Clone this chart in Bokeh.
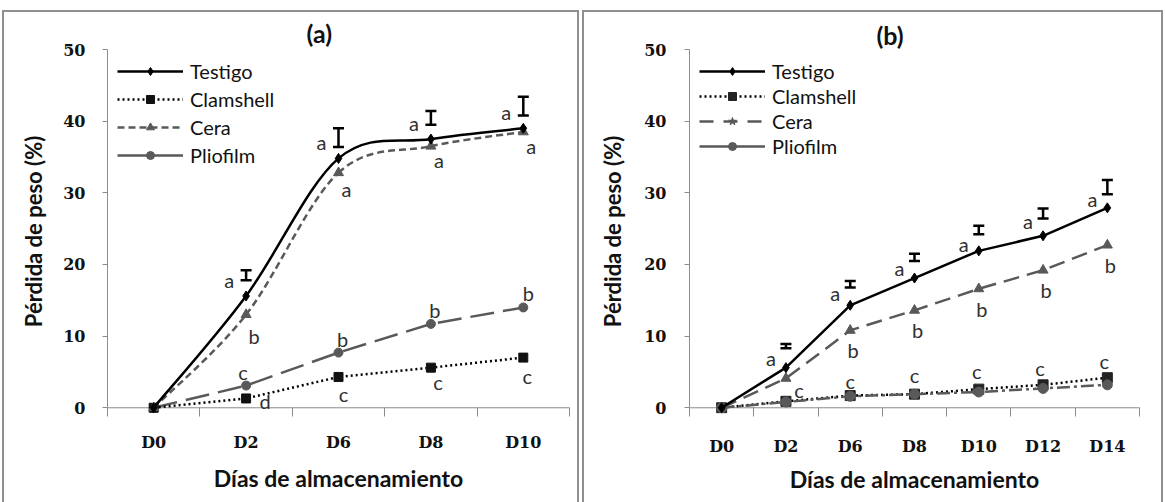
import math
from bokeh.plotting import figure
from bokeh.models import (Range1d, FixedTicker, ColumnDataSource, Whisker, TeeHead,
                          Legend, LegendItem, Title, Span)
from bokeh.layouts import row
from bokeh.embed import file_html
from bokeh.resources import INLINE
from bokeh.core.properties import value

# ---------------- data: panel (a) ----------------
days_a = ["D0", "D2", "D6", "D8", "D10"]
testigo_a = [0, 15.6, 34.8, 37.5, 39.0]
clamshell_a = [0, 1.3, 4.3, 5.6, 7.0]
cera_a = [0, 13.0, 32.8, 36.5, 38.5]
pliofilm_a = [0, 3.1, 7.7, 11.7, 14.0]
err_low_a = [17.8, 36.4, 39.5, 40.8]      # D2..D10
err_high_a = [19.2, 39.0, 41.4, 43.4]
letters_testigo_a = ["", "a", "a", "a", "a"]
letters_clamshell_a = ["", "d", "c", "c", "c"]
letters_cera_a = ["", "b", "a", "a", "a"]
letters_pliofilm_a = ["", "c", "b", "b", "b"]

# ---------------- data: panel (b) ----------------
days_b = ["D0", "D2", "D6", "D8", "D10", "D12", "D14"]
testigo_b = [0, 5.6, 14.3, 18.1, 21.9, 24.0, 27.9]
clamshell_b = [0, 0.9, 1.7, 1.9, 2.6, 3.2, 4.2]
cera_b = [0, 4.1, 10.8, 13.6, 16.6, 19.2, 22.7]
pliofilm_b = [0, 0.8, 1.6, 1.9, 2.2, 2.7, 3.2]
err_low_b = [8.3, 16.8, 20.5, 24.2, 26.4, 29.8]   # D2..D14
err_high_b = [8.9, 17.7, 21.5, 25.4, 27.8, 31.8]
letters_testigo_b = ["", "a", "a", "a", "a", "a", "a"]
letters_cera_b = ["", "", "b", "b", "b", "b", "b"]
letters_clamshell_b = ["", "c", "c", "c", "c", "c", "c"]
letters_pliofilm_b = ["", "", "", "", "", "", ""]

y_ticks = [0, 10, 20, 30, 40, 50]

AXIS_C = "#8c8c8c"
GRAY = "#595959"
BLACK = "#000000"
NAN = [float("nan")]
Y_START = -0.8


def smooth_source(xs, ys):
    d = dict(x0=[], y0=[], x1=[], y1=[], cx0=[], cy0=[], cx1=[], cy1=[])
    n = len(xs)
    for i in range(n - 1):
        a = i - 1 if i > 0 else i
        b = i + 2 if i + 2 < n else i + 1
        d["x0"].append(xs[i]); d["y0"].append(ys[i])
        d["x1"].append(xs[i + 1]); d["y1"].append(ys[i + 1])
        d["cx0"].append(xs[i] + (xs[i + 1] - xs[a]) / 6.0)
        d["cy0"].append(ys[i] + (ys[i + 1] - ys[a]) / 6.0)
        d["cx1"].append(xs[i + 1] - (xs[b] - xs[i]) / 6.0)
        d["cy1"].append(ys[i + 1] - (ys[b] - ys[i]) / 6.0)
    return ColumnDataSource(d)


def build(days, series, err_low, err_high, geo, title):
    n = len(days)
    xs = [2 * i + 1 for i in range(n)]
    p = figure(width=geo["w"], height=geo["h"], x_range=Range1d(0, 2 * n),
               y_range=Range1d(Y_START, 50), output_backend="svg",
               toolbar_location=None, min_border_left=geo["l"],
               min_border_right=geo["r"], min_border_top=geo["t"],
               min_border_bottom=geo["b"])
    p.margin = geo["margin"]
    p.border_fill_color = None
    p.background_fill_color = None
    p.outline_line_color = None
    p.xgrid.visible = False
    p.ygrid.visible = False
    p.styles = {"box-shadow": "inset 2px 2px 0 0 #8f8f8f, inset -2px 0 0 0 #8f8f8f"}

    p.title = Title(text=title, align="left", offset=geo["toff"], standoff=geo["tst"],
                    vertical_align="bottom", text_font="Lato",
                    text_font_style="bold", text_font_size="25px",
                    text_color="#111111")

    # zero line acting as the category axis line
    p.add_layout(Span(location=0, dimension="width", line_color=AXIS_C,
                      line_width=1, level="underlay"))

    # axes
    xa = p.xaxis[0]
    xa.ticker = FixedTicker(ticks=xs, minor_ticks=list(range(0, 2 * n + 1, 2)))
    xa.major_label_overrides = {x: d for x, d in zip(xs, days)}
    xa.major_tick_out = 0
    xa.major_tick_in = 0
    xa.minor_tick_in = geo["mti"]
    xa.minor_tick_out = 3
    xa.minor_tick_line_color = AXIS_C
    xa.minor_tick_line_width = 1
    xa.axis_line_color = None
    xa.major_label_standoff = geo["xls"]
    xa.major_label_text_font = "DejaVu Serif"
    xa.major_label_text_font_style = "bold"
    xa.major_label_text_font_size = "16px"
    xa.major_label_text_color = "#111111"
    xa.axis_label = "Días de almacenamiento"
    xa.axis_label_text_font = "Lato"
    xa.axis_label_text_font_style = "bold"
    xa.axis_label_text_font_size = "23px"
    xa.axis_label_text_color = "#111111"
    xa.axis_label_standoff = geo["xts"]

    ya = p.yaxis[0]
    ya.ticker = FixedTicker(ticks=y_ticks, minor_ticks=[])
    ya.bounds = (0, 50)
    ya.major_tick_out = 5
    ya.major_tick_in = 0
    ya.minor_tick_out = 0
    ya.minor_tick_in = 0
    ya.major_tick_line_color = AXIS_C
    ya.axis_line_color = AXIS_C
    ya.major_label_standoff = geo["yls"]
    ya.major_label_text_font = "DejaVu Serif"
    ya.major_label_text_font_style = "bold"
    ya.major_label_text_font_size = "16px"
    ya.major_label_text_color = "#111111"
    ya.axis_label = "Pérdida de peso (%)"
    ya.axis_label_text_font = "Lato"
    ya.axis_label_text_font_style = "bold"
    ya.axis_label_text_font_size = "22px"
    ya.axis_label_text_color = "#111111"
    ya.axis_label_standoff = geo["yts"]

    items = []
    for s in series:
        vals = s["values"]
        if s.get("smooth"):
            p.bezier(x0="x0", y0="y0", x1="x1", y1="y1", cx0="cx0", cy0="cy0",
                     cx1="cx1", cy1="cy1", source=smooth_source(xs, vals),
                     line_color=s["color"], line_width=2.5, line_dash=s["dash"])
        else:
            p.line(xs, vals, line_color=s["color"], line_width=2.5,
                   line_dash=s["dash"], line_join="round")
        p.scatter(xs, vals, marker=s["marker"], size=s["size"],
                  fill_color=s["mcolor"], line_color=s["mcolor"])
        # letters
        dx = s["ldx"] if isinstance(s["ldx"], list) else [s["ldx"]] * n
        dy = s["ldy"] if isinstance(s["ldy"], list) else [s["ldy"]] * n
        lsrc = ColumnDataSource(dict(x=xs, y=vals, t=s["letters"], dx=dx, dy=dy))
        p.text(x="x", y="y", text="t", x_offset="dx", y_offset="dy", source=lsrc,
               text_font=value("Lato"), text_font_size="20px", text_color="#303030",
               text_align="center", text_baseline="middle")
        # legend proxies (legend-only style)
        lr = p.line(NAN, NAN, line_color=s["color"], line_width=2.5,
                    line_dash=s["ldash"])
        sr = p.scatter(NAN, NAN, marker=s["lmarker"], size=s["size"],
                       fill_color=s["mcolor"], line_color=s["mcolor"])
        items.append(LegendItem(label=s["name"], renderers=[lr, sr]))

    # error bars
    wsrc = ColumnDataSource(dict(base=xs[1:], lower=err_low, upper=err_high))
    p.add_layout(Whisker(source=wsrc, base="base", lower="lower", upper="upper",
                         line_color=BLACK, line_width=2.5,
                         upper_head=TeeHead(size=11, line_width=2.5, line_color=BLACK),
                         lower_head=TeeHead(size=11, line_width=2.5, line_color=BLACK)))

    order = ["Testigo", "Clamshell", "Cera", "Pliofilm"]
    items.sort(key=lambda it: order.index(it.label.value))
    leg = Legend(items=items, location="top_left", margin=geo["lm"], padding=geo["lp"],
                 spacing=geo["lsp"], glyph_width=66, glyph_height=20,
                 label_height=20, label_standoff=7,
                 label_text_font="Lato", label_text_font_size="20px",
                 label_text_color="#111111",
                 background_fill_alpha=0, border_line_color=None)
    p.add_layout(leg)
    return p


series_a = [
    dict(name="Pliofilm", values=pliofilm_a, color=GRAY, mcolor=GRAY, dash="24 9",
         ldash="solid", marker="circle", lmarker="circle", size=9,
         letters=letters_pliofilm_a, ldx=[0, -3, 4, 4, 5], ldy=-14),
    dict(name="Clamshell", values=clamshell_a, color=BLACK, mcolor="#111111", dash="2 3",
         ldash="2 3", marker="square", lmarker="square", size=9,
         letters=letters_clamshell_a, ldx=[0, 19, 5, 7, 4], ldy=[0, 3, 17, 14, 18]),
    dict(name="Cera", values=cera_a, color=GRAY, mcolor=GRAY, dash="7 4", smooth=True,
         ldash="7 4", marker="triangle", lmarker="triangle", size=10,
         letters=letters_cera_a, ldx=8, ldy=[0, 21, 16, 14, 14]),
    dict(name="Testigo", values=testigo_a, color=BLACK, mcolor=BLACK, dash="solid", smooth=True,
         ldash="solid", marker="diamond", lmarker="diamond", size=10,
         letters=letters_testigo_a, ldx=-17, ldy=-16),
]

series_b = [
    dict(name="Clamshell", values=clamshell_b, color=BLACK, mcolor="#222222", dash="2 3",
         ldash="2 3", marker="square", lmarker="square", size=10,
         letters=letters_clamshell_b, ldx=[0, 13, 0, 0, -2, -3, -3],
         ldy=[0, -11, -15, -19, -18, -17, -17]),
    dict(name="Pliofilm", values=pliofilm_b, color=GRAY, mcolor=GRAY, dash="13 4 3 4",
         ldash="solid", marker="circle", lmarker="circle", size=10,
         letters=letters_pliofilm_b, ldx=0, ldy=0),
    dict(name="Cera", values=cera_b, color=GRAY, mcolor=GRAY, dash="16 8",
         ldash="14 10", marker="triangle", lmarker="star", size=10,
         letters=letters_cera_b, ldx=3, ldy=20),
    dict(name="Testigo", values=testigo_b, color=BLACK, mcolor=BLACK, dash="solid",
         ldash="solid", marker="diamond", lmarker="diamond", size=10,
         letters=letters_testigo_b, ldx=-15, ldy=[0, -10, -12, -10, -7, -15, -9]),
]

geo_a = dict(w=577, h=492, margin=(10, 0, 0, 2), l=105, r=10, t=39, b=83,
             xls=16, xts=9, yls=17, yts=13, lm=10, lp=0, lsp=4, mti=6,
             toff=199, tst=3)
geo_b = dict(w=581, h=492, margin=(10, 0, 0, 3), l=107, r=24, t=36, b=89,
             xls=20, xts=6, yls=18, yts=15, lm=10, lp=0, lsp=1, mti=6,
             toff=187, tst=0)

pa = build(days_a, series_a, err_low_a, err_high_a, geo_a, "(a)")
pb = build(days_b, series_b, err_low_b, err_high_b, geo_b, "(b)")

layout = row(pa, pb)
open("out.html", "w").write(file_html(layout, INLINE))
